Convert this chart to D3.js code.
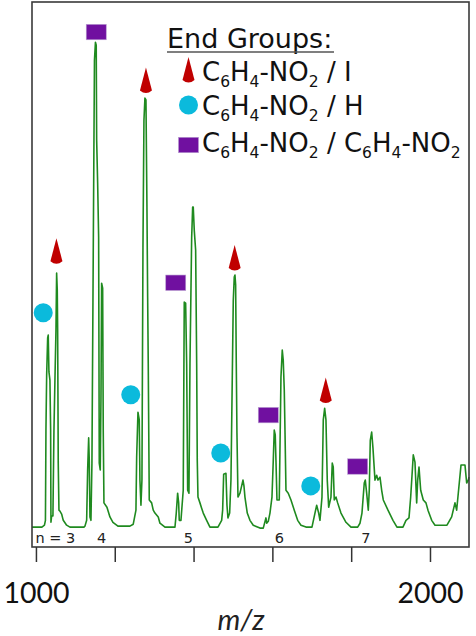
<!DOCTYPE html>
<html><head><meta charset="utf-8">
<script src="https://cdn.jsdelivr.net/npm/d3@7"></script>
<style>body{margin:0;background:#fff}svg{display:block}</style>
</head><body>
<script>
// ---- data ----
const spectrum = [
[990,0.2],[1015.2,0.2],[1021.6,0.6],[1024.1,1.6],[1025.4,20.2],[1027.2,31.5],[1029.7,39.2],[1031.2,39.8],[1033.0,32.2],[1035.5,30.5],[1037.3,20.2],[1038.1,1.2],[1039.8,2.5],[1043.1,2.5],[1045.7,20.2],[1048.2,30.5],[1050.8,40.8],[1052.5,52.6],[1054.1,49.1],[1055.1,40.8],[1056.6,13.4],[1058.4,3.7],[1060.9,3.5],[1065.2,2.9],[1069.3,1.6],[1077.9,0.6],[1086.3,0.2],[1121.8,0.2],
[1124.4,0.4],[1128.7,1.6],[1131.2,12.0],[1133.8,18.6],[1135.3,14.0],[1137.1,2.3],[1139.6,1.6],[1142.1,13.4],[1144.7,47.0],[1148.5,96.5],[1151.0,100.2],[1153.0,99.6],[1154.1,80.0],[1156.6,71.1],[1159.1,60.0],[1160.7,13.4],[1163.2,12.0],[1165.0,26.4],[1166.7,50.5],[1169.3,49.5],[1170.8,20.2],[1172.6,5.2],[1180.2,4.3],[1187.8,2.3],[1195.4,1.2],[1208.1,0.4],[1238.6,0.4],[1246.9,0.8],[1253.8,3.7],[1255.6,14.6],[1258.9,23.9],[1262.2,22.3],[1263.9,9.9],[1266.5,4.7],[1269.0,9.9],[1271.6,57.9],[1274.1,84.1],[1276.6,88.7],[1279.2,88.3],[1281.7,66.2],[1283.5,47.6],[1285.0,34.0],[1287.6,5.8],[1293.6,5.2],[1297.7,3.7],[1302.0,3.1],[1310.4,2.3],[1314.7,1.0],[1327.4,0.2],
[1352.8,0.2],[1356.1,3.1],[1359.6,7.2],[1362.2,5.2],[1363.7,1.6],[1368.0,1.6],[1373.8,7.8],[1376.4,46.6],[1379.9,46.4],[1382.5,34.0],[1385.0,7.8],[1388.3,7.2],[1390.9,34.0],[1395.2,60.0],[1397.7,66.2],[1399.2,66.2],[1401.8,61.4],[1405.3,57.3],[1407.9,34.0],[1409.4,14.0],[1411.2,6.4],[1416.2,5.2],[1420.5,4.1],[1424.6,3.1],[1433.2,1.6],[1441.6,0.2],
[1461.9,0.2],[1471.3,1.6],[1473.8,3.7],[1476.4,11.1],[1482.2,11.3],[1484.8,4.7],[1487.3,2.1],[1491.6,3.1],[1494.9,9.9],[1500.8,47.0],[1503.3,51.8],[1505.1,52.2],[1506.8,50.1],[1508.4,34.0],[1510.1,19.6],[1512.7,6.4],[1517.8,7.2],[1522.1,8.7],[1525.4,9.9],[1527.9,8.7],[1530.4,6.4],[1536.3,3.1],[1543.1,1.6],[1551.5,0.6],[1568.5,0],
[1576.9,0],[1583.7,2.1],[1585.5,1.0],[1589.6,1.4],[1593.9,3.1],[1599.0,6.4],[1602.3,14.0],[1604.8,20.2],[1607.3,19.2],[1609.1,14.0],[1611.7,5.8],[1617.5,5.8],[1621.8,31.1],[1625.1,36.7],[1627.6,34.6],[1630.2,28.5],[1632.0,20.2],[1634.5,7.8],[1640.3,7.2],[1647.2,5.8],[1655.6,3.7],[1664.2,1.6],[1672.6,0.6],[1685.3,0.2],
[1700.5,0.2],[1708.1,3.1],[1712.4,4.7],[1717.5,3.1],[1720.8,1.6],[1725.9,6.4],[1729.2,22.3],[1732.7,24.7],[1736.0,22.3],[1739.3,9.9],[1742.9,4.3],[1748.7,6.4],[1752.0,13.4],[1754.5,12.6],[1757.1,5.8],[1761.4,6.4],[1765.7,5.2],[1774.1,3.1],[1786.8,1.2],[1799.5,0.2],
[1816.5,0.2],[1822.3,1.0],[1827.4,3.1],[1833.2,9.3],[1835.8,9.9],[1839.3,7.2],[1843.4,3.7],[1845.9,7.8],[1848.5,18.1],[1852.0,19.8],[1855.3,16.5],[1860.4,9.9],[1864.7,10.9],[1868.0,9.9],[1873.1,10.5],[1877.4,7.8],[1881.5,5.8],[1893.4,3.7],[1906.1,1.6],[1916.2,0.2],
[1931.4,0.2],[1939.1,1.6],[1946.7,2.1],[1951.0,6.4],[1957.6,15.1],[1961.9,13.6],[1966.2,5.2],[1968.8,9.9],[1972.1,12.6],[1976.4,7.8],[1983.0,5.8],[1989.8,5.2],[1994.9,3.7],[2004.3,1.6],[2012.7,0.6],
[2043.1,0.6],[2055.0,2.3],[2063.4,5.2],[2067.7,3.7],[2074.3,9.3],[2078.7,13.0],[2088.8,13.0],[2093.1,9.3],[2097.2,9.9],[2099,10.5]
];

const markerType = ["square","triangle","circle","triangle","circle","square","triangle","circle","square","circle","triangle","square"];
const markerMz   = [1153.0, 1052.0, 1018.5, 1279.2, 1240.6, 1354.8, 1504.3, 1469.0, 1589.6, 1697.4, 1735.5, 1816.5];
const markerInt  = [102.3, 57.1, 44.4, 92.3, 27.5, 50.6, 55.7, 15.5, 23.3, 8.7, 28.4, 12.7];

const nLabels = ["n = 3","4","5","6","7"];
const nLabelMz = [1049.5, 1166.7, 1387.0, 1618.0, 1837.5];

const tickValues = [1000,1200,1400,1600,1800,2000];
const tickLabels = ["1000","","","","","2000"];

const legendTitle = "End Groups:";
const legendTypes = ["triangle","circle","square"];
const legendLabels = [
  [["C",0],["6",1],["H",0],["4",1],["-NO",0],["2",1],[" / I",0]],
  [["C",0],["6",1],["H",0],["4",1],["-NO",0],["2",1],[" / H",0]],
  [["C",0],["6",1],["H",0],["4",1],["-NO",0],["2",1],[" / C",0],["6",1],["H",0],["4",1],["-NO",0],["2",1]]
];
const xLabel = "m/z";

// ---- styles ----
const colors = {triangle:"#C00000", circle:"#0BBADC", square:"#7010A0"};
const W = 476, H = 636;
const svg = d3.select("body").append("svg").attr("width",W).attr("height",H);

const x = d3.scaleLinear().domain([990,2099]).range([32,469]);
const y = d3.scaleLinear().domain([-3.9,108.5]).range([547,2]);

// spectrum
const line = d3.line().x(d=>x(d[0])).y(d=>y(d[1]));
svg.append("path").datum(spectrum)
  .attr("d",line).attr("fill","none")
  .attr("stroke","#1f8a1f").attr("stroke-width",1.6).attr("stroke-linejoin","round");

// frame
svg.append("rect").attr("x",32).attr("y",2).attr("width",437).attr("height",545)
  .attr("fill","none").attr("stroke","#3a3a3a").attr("stroke-width",1.6);

// axis
const axis = d3.axisBottom(x).tickValues(tickValues).tickSize(15).tickPadding(21)
  .tickFormat((d,i)=>tickLabels[i]);
const gx = svg.append("g").attr("transform","translate(0,547)").call(axis);
gx.select(".domain").remove();
gx.selectAll(".tick line").attr("stroke","#333").attr("stroke-width",1.5);
gx.selectAll(".tick text").attr("font-family","Lato, sans-serif").attr("font-size",28.5).attr("fill","#111");

svg.append("text").attr("x",241).attr("y",630).attr("text-anchor","middle")
  .attr("font-family","Lato, sans-serif").attr("font-style","italic").attr("font-size",29).attr("fill","#222")
  .text(xLabel);

// n labels
svg.selectAll("text.nlab").data(nLabels).join("text").attr("class","nlab")
  .attr("x",(d,i)=>x(nLabelMz[i])).attr("y",543).attr("text-anchor","middle")
  .attr("font-family","DejaVu Sans, sans-serif").attr("font-size",14.5).attr("fill","#222")
  .text(d=>d);

// marker shapes
function drawMarker(g, type){
  if(type==="triangle"){
    g.append("path").attr("d","M0,-13 L6,10 Q0,15 -6,10 Z").attr("fill",colors.triangle);
  } else if(type==="circle"){
    g.append("circle").attr("r",9.5).attr("fill",colors.circle);
  } else {
    g.append("rect").attr("x",-10).attr("y",-7.7).attr("width",20).attr("height",15.4)
      .attr("fill",colors.square).attr("stroke","#b79bd0").attr("stroke-width",0.6);
  }
}
markerType.forEach((t,i)=>{
  const g = svg.append("g").attr("transform",`translate(${x(markerMz[i])},${y(markerInt[i])})`);
  drawMarker(g,t);
});

// legend
svg.append("text").attr("x",167).attr("y",48).attr("font-family","DejaVu Sans, sans-serif")
  .attr("font-size",27).attr("fill","#111").text(legendTitle);
svg.append("line").attr("x1",167).attr("x2",334).attr("y1",52).attr("y2",52)
  .attr("stroke","#555").attr("stroke-width",1.5);

const rowY = [81,115,152];
const rowMarkerY = [70,105,145];
legendTypes.forEach((t,i)=>{
  const g = svg.append("g").attr("transform",`translate(188.5,${rowMarkerY[i]})`);
  drawMarker(g,t);
  const txt = svg.append("text").attr("x",202).attr("y",rowY[i])
    .attr("font-family","DejaVu Sans, sans-serif").attr("font-size",26).attr("fill","#111");
  let sub = false;
  legendLabels[i].forEach(([s,isSub])=>{
    const ts = txt.append("tspan").text(s);
    if(isSub && !sub){ ts.attr("font-size",15.5).attr("dy",6); sub = true; }
    else if(isSub && sub){ ts.attr("font-size",15.5); }
    else if(!isSub && sub){ ts.attr("dy",-6); sub = false; }
  });
});
</script>
</body></html>
